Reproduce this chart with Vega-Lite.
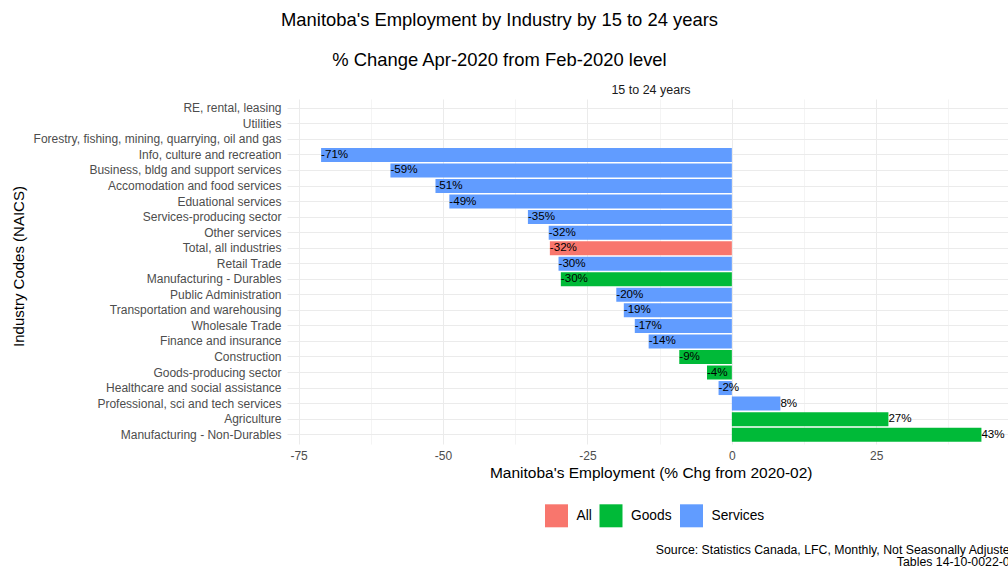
{
  "$schema": "https://vega.github.io/schema/vega-lite/v6.json",
  "width": 721,
  "height": 345,
  "autosize": {"type": "none"},
  "padding": {"left": 287, "top": 99, "right": 0, "bottom": 123},
  "background": "white",
  "config": {
    "font": "Liberation Sans",
    "view": {"stroke": null}
  },
  "title": {
    "text": ["Manitoba's Employment by Industry by 15 to 24 years", "% Change Apr-2020 from Feb-2020 level"],
    "fontSize": 18.4,
    "fontWeight": "normal",
    "color": "#000000",
    "lineHeight": 40.3,
    "anchor": "middle",
    "frame": "group",
    "dx": -148,
    "offset": 13.5
  },
  "data": {
    "values": [
      {"industry": "RE, rental, leasing", "group": "Services", "value": null, "label": null},
      {"industry": "Utilities", "group": "Goods", "value": null, "label": null},
      {"industry": "Forestry, fishing, mining, quarrying, oil and gas", "group": "Goods", "value": null, "label": null},
      {"industry": "Info, culture and recreation", "group": "Services", "value": -71.1, "label": "-71%"},
      {"industry": "Business, bldg and support services", "group": "Services", "value": -59.1, "label": "-59%"},
      {"industry": "Accomodation and food services", "group": "Services", "value": -51.3, "label": "-51%"},
      {"industry": "Eduational services", "group": "Services", "value": -48.9, "label": "-49%"},
      {"industry": "Services-producing sector", "group": "Services", "value": -35.3, "label": "-35%"},
      {"industry": "Other services", "group": "Services", "value": -31.7, "label": "-32%"},
      {"industry": "Total, all industries", "group": "All", "value": -31.5, "label": "-32%"},
      {"industry": "Retail Trade", "group": "Services", "value": -30.0, "label": "-30%"},
      {"industry": "Manufacturing - Durables", "group": "Goods", "value": -29.6, "label": "-30%"},
      {"industry": "Public Administration", "group": "Services", "value": -20.0, "label": "-20%"},
      {"industry": "Transportation and warehousing", "group": "Services", "value": -18.7, "label": "-19%"},
      {"industry": "Wholesale Trade", "group": "Services", "value": -16.8, "label": "-17%"},
      {"industry": "Finance and insurance", "group": "Services", "value": -14.4, "label": "-14%"},
      {"industry": "Construction", "group": "Goods", "value": -9.1, "label": "-9%"},
      {"industry": "Goods-producing sector", "group": "Goods", "value": -4.3, "label": "-4%"},
      {"industry": "Healthcare and social assistance", "group": "Services", "value": -2.3, "label": "-2%"},
      {"industry": "Professional, sci and tech services", "group": "Services", "value": 8.4, "label": "8%"},
      {"industry": "Agriculture", "group": "Goods", "value": 27.1, "label": "27%"},
      {"industry": "Manufacturing - Non-Durables", "group": "Goods", "value": 43.2, "label": "43%"}
    ]
  },
  "resolve": {"axis": {"x": "independent", "y": "independent"}},
  "layer": [
    {
      "mark": {"type": "bar"},
      "encoding": {
        "y": {
          "field": "industry",
          "type": "nominal",
          "scale": {
            "domain": ["RE, rental, leasing", "Utilities", "Forestry, fishing, mining, quarrying, oil and gas", "Info, culture and recreation", "Business, bldg and support services", "Accomodation and food services", "Eduational services", "Services-producing sector", "Other services", "Total, all industries", "Retail Trade", "Manufacturing - Durables", "Public Administration", "Transportation and warehousing", "Wholesale Trade", "Finance and insurance", "Construction", "Goods-producing sector", "Healthcare and social assistance", "Professional, sci and tech services", "Agriculture", "Manufacturing - Non-Durables"],
            "paddingInner": 0.1,
            "paddingOuter": 0.15
          },
          "axis": {
            "orient": "left",
            "title": "Industry Codes (NAICS)",
            "titleFontSize": 15,
            "titleFontWeight": "normal",
            "titleColor": "#000000",
            "titleX": -269,
            "titleY": 167,
            "titleAngle": -90,
            "titleAlign": "center",
            "titleBaseline": "middle",
            "labelFontSize": 12,
            "labelColor": "#4D4D4D",
            "labelPadding": 6,
            "labelLimit": 400,
            "ticks": false,
            "domain": false,
            "grid": true,
            "gridColor": "#EBEBEB",
            "gridWidth": 1.07,
            "bandPosition": 0.5,
            "zindex": 0
          }
        },
        "x": {
          "field": "value",
          "type": "quantitative",
          "scale": {"domain": [-77, 47.8], "nice": false, "zero": false},
          "axis": {
            "orient": "bottom",
            "title": "Manitoba's Employment (% Chg from 2020-02)",
            "titleFontSize": 15.5,
            "titleFontWeight": "normal",
            "titleColor": "#000000",
            "titleX": 363.7,
            "titleY": 28.3,
            "titleAlign": "center",
            "titleBaseline": "middle",
            "values": [-75, -62.5, -50, -37.5, -25, -12.5, 0, 12.5, 25, 37.5],
            "labelExpr": "datum.value % 25 == 0 ? '' + datum.value : ''",
            "labelFontSize": 12,
            "labelColor": "#4D4D4D",
            "labelPadding": 6.5,
            "labelOverlap": false,
            "labelFlush": false,
            "ticks": false,
            "domain": false,
            "grid": true,
            "gridColor": "#EBEBEB",
            "gridWidth": {"condition": {"test": "datum.value % 25 == 0", "value": 1.07}, "value": 0.53},
            "zindex": 0
          }
        },
        "x2": {"datum": 0},
        "color": {
          "field": "group",
          "type": "nominal",
          "scale": {"domain": ["All", "Goods", "Services"], "range": ["#F8766D", "#00BA38", "#619CFF"]},
          "legend": {
            "orient": "none",
            "legendX": 258,
            "legendY": 405.3,
            "direction": "horizontal",
            "title": null,
            "symbolType": "square",
            "symbolSize": 529,
            "symbolStrokeWidth": 0,
            "symbolOpacity": 1,
            "labelFontSize": 13.75,
            "labelColor": "#000000",
            "labelOffset": 8.5,
            "columnPadding": 7.5
          }
        }
      }
    },
    {
      "mark": {"type": "text", "align": "left", "baseline": "middle", "fontSize": 11.6, "color": "#000000"},
      "encoding": {
        "y": {
          "field": "industry",
          "type": "nominal",
          "axis": {
            "orient": "right",
            "labels": false,
            "ticks": false,
            "domain": false,
            "grid": false,
            "title": ["Source: Statistics Canada, LFC, Monthly, Not Seasonally Adjusted", "Tables 14-10-0022-01"],
            "titleAngle": 0,
            "titleAlign": "right",
            "titleBaseline": "middle",
            "titleX": 8,
            "titleY": 450,
            "titleFontSize": 12.3,
            "titleLineHeight": 12.5,
            "titleFontWeight": "normal",
            "titleColor": "#000000"
          }
        },
        "x": {
          "field": "value",
          "type": "quantitative",
          "axis": {
            "orient": "top",
            "labels": false,
            "ticks": false,
            "domain": false,
            "grid": false,
            "title": "15 to 24 years",
            "titleFontSize": 12.5,
            "titleFontWeight": "normal",
            "titleColor": "#1A1A1A",
            "titleX": 363.5,
            "titleY": -9.7,
            "titleAlign": "center",
            "titleBaseline": "middle"
          }
        },
        "text": {"field": "label", "type": "nominal"}
      }
    }
  ]
}
